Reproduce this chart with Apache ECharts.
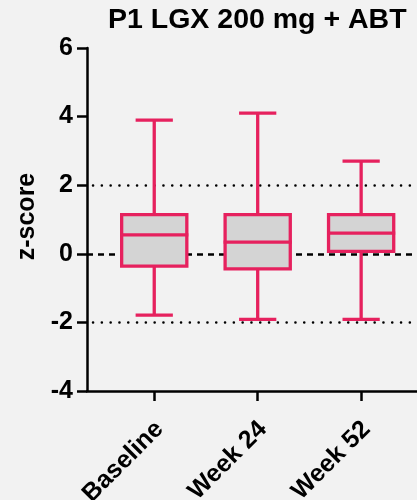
<!DOCTYPE html>
<html>
<head>
<meta charset="utf-8">
<script src="https://cdn.jsdelivr.net/npm/echarts@6/dist/echarts.min.js"></script>
<style>
  html, body { margin: 0; padding: 0; background: #f2f2f2; }
  #chart { width: 417px; height: 500px; }
</style>
</head>
<body>
<div id="chart"></div>
<script>
// Visits and their z-score distributions (min, Q1, median, Q3, max)
const categories = ['Baseline', 'Week 24', 'Week 52'];
const minValues    = [-1.79, -1.91, -1.91];
const q1Values     = [-0.36, -0.44, 0.07];
const medianValues = [0.55, 0.34, 0.60];
const q3Values     = [1.14, 1.14, 1.14];
const maxValues    = [3.90, 4.10, 2.70];
const yTicks = [-4, -2, 0, 2, 4, 6];
const refLines = [-2, 0, 2];

const PINK = '#e6215e';
const FONT = 'Liberation Sans, Arial, sans-serif';

const boxData = categories.map((c, i) => [i, minValues[i], q1Values[i], medianValues[i], q3Values[i], maxValues[i]]);

const chart = echarts.init(document.getElementById('chart'), null, { renderer: 'canvas' });

chart.setOption({
  backgroundColor: '#f2f2f2',
  animation: false,
  title: {
    text: 'P1 LGX 200 mg + ABT',
    left: 108,
    top: 6,
    padding: 0,
    textStyle: { fontFamily: FONT, fontWeight: 'bold', fontSize: 28.5, color: '#000' }
  },
  grid: { left: 87, right: 0, top: 48, bottom: 109, containLabel: false, outerBoundsMode: 'none' },
  xAxis: {
    type: 'value',
    min: -0.65,
    max: 2.54,
    splitLine: { show: false },
    axisLine: { show: true, onZero: false, lineStyle: { color: '#000', width: 2.5 } },
    axisTick: { show: true, length: 10, customValues: [0, 1, 2], lineStyle: { color: '#000', width: 2.5 } },
    axisLabel: {
      show: true,
      customValues: [0, 1, 2],
      rotate: 45,
      margin: 29,
      verticalAlign: 'top',
      lineHeight: 15,
      fontFamily: FONT,
      fontWeight: 'bold',
      fontSize: 25,
      color: '#000',
      formatter: v => categories[Math.round(v)]
    }
  },
  yAxis: {
    type: 'value',
    min: -4,
    max: 6,
    interval: 2,
    name: 'z-score',
    nameLocation: 'middle',
    nameGap: 46,
    nameTextStyle: { fontFamily: FONT, fontWeight: 'bold', fontSize: 25, color: '#000', padding: [0, 0, 0, 6] },
    splitLine: { show: false },
    axisLine: { show: true, onZero: false, lineStyle: { color: '#000', width: 2.5 } },
    axisTick: { show: true, length: 10, lineStyle: { color: '#000', width: 2.5 } },
    axisLabel: {
      margin: 14,
      fontFamily: FONT,
      fontWeight: 'bold',
      fontSize: 25,
      color: '#000',
      customValues: yTicks
    }
  },
  series: [
    {
      // reference lines at ±2 (dotted) and 0 (dashed)
      type: 'line',
      data: [],
      z: 1,
      markLine: {
        silent: true,
        symbol: ['none', 'none'],
        label: { show: false },
        data: refLines.map(v => ({
          yAxis: v,
          lineStyle: v === 0
            ? { color: '#000', width: 2.5, type: [6, 5], cap: 'butt' }
            : { color: '#000', width: 2.5, type: [0.1, 8.7], dashOffset: -6, cap: 'round' }
        }))
      }
    },
    {
      type: 'custom',
      z: 5,
      data: boxData,
      encode: { x: 0, y: [1, 2, 3, 4, 5] },
      renderItem: function (params, api) {
        const x = api.value(0);
        const unit = api.size([1, 0])[0];
        const boxW = unit * 0.63;
        const capW = unit * 0.36;
        const pMin = api.coord([x, api.value(1)]);
        const pQ1 = api.coord([x, api.value(2)]);
        const pMed = api.coord([x, api.value(3)]);
        const pQ3 = api.coord([x, api.value(4)]);
        const pMax = api.coord([x, api.value(5)]);
        const cx = pMed[0];
        const line = { stroke: PINK, lineWidth: 3.3, lineCap: 'butt' };
        return {
          type: 'group',
          children: [
            { type: 'line', shape: { x1: cx, y1: pQ3[1], x2: cx, y2: pMax[1] }, style: line },
            { type: 'line', shape: { x1: cx, y1: pQ1[1], x2: cx, y2: pMin[1] }, style: line },
            { type: 'line', shape: { x1: cx - capW / 2, y1: pMax[1], x2: cx + capW / 2, y2: pMax[1] }, style: line },
            { type: 'line', shape: { x1: cx - capW / 2, y1: pMin[1], x2: cx + capW / 2, y2: pMin[1] }, style: line },
            {
              type: 'rect',
              shape: { x: cx - boxW / 2, y: pQ3[1], width: boxW, height: pQ1[1] - pQ3[1] },
              style: { fill: '#d4d4d4', stroke: PINK, lineWidth: 3.3 }
            },
            { type: 'line', shape: { x1: cx - boxW / 2 - 1.5, y1: pMed[1], x2: cx + boxW / 2 + 1.5, y2: pMed[1] }, style: line }
          ]
        };
      }
    }
  ]
});
</script>
</body>
</html>
